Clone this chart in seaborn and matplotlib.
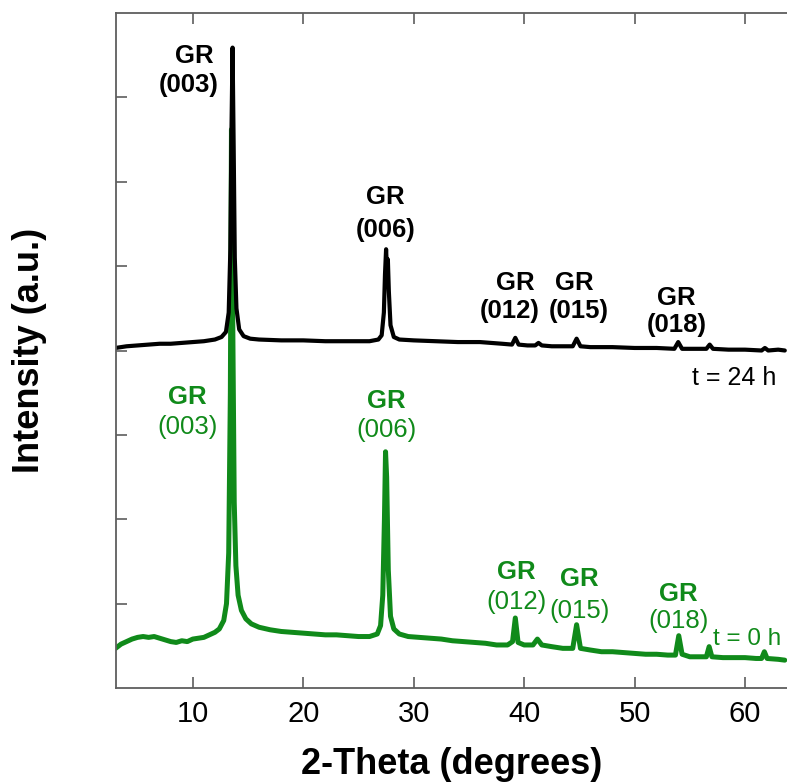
import pandas as pd
import matplotlib
matplotlib.use("Agg")
import matplotlib.pyplot as plt
import seaborn as sns

# XRD pattern after 24 h (black, offset upward)
x_24h = [3.0, 4.0, 5.0, 6.0, 7.0, 8.0, 9.0, 10.0, 11.0, 12.0, 12.6, 13.0, 13.25, 13.4,
         13.5, 13.6, 13.7, 13.8, 13.95, 14.2, 14.6, 15.2, 16.0, 18.0, 20.0, 22.0, 24.0,
         26.0, 26.8, 27.1, 27.3, 27.4, 27.5, 27.58, 27.66, 27.75, 27.9, 28.2, 28.7, 30.0,
         32.0, 34.0, 36.0, 38.0, 38.9, 39.2, 39.5, 40.3, 41.0, 41.3, 41.6, 42.5, 43.5,
         44.4, 44.75, 45.1, 46.0, 48.0, 50.0, 52.0, 53.6, 53.95, 54.3, 55.5, 56.5, 56.8,
         57.1, 58.5, 60.0, 61.5, 61.8, 62.1, 63.0, 63.6]
y_24h = [4.03, 4.05, 4.06, 4.07, 4.08, 4.08, 4.09, 4.10, 4.11, 4.13, 4.16, 4.22, 4.45, 5.2,
         6.6, 7.59, 6.4, 5.1, 4.5, 4.25, 4.17, 4.14, 4.13, 4.12, 4.12, 4.11, 4.11,
         4.11, 4.13, 4.18, 4.45, 4.9, 5.20, 4.95, 5.08, 4.7, 4.3, 4.16, 4.13, 4.12,
         4.11, 4.10, 4.10, 4.08, 4.07, 4.15, 4.07, 4.06, 4.06, 4.09, 4.06, 4.05, 4.05,
         4.05, 4.14, 4.05, 4.04, 4.04, 4.03, 4.03, 4.02, 4.10, 4.02, 4.02, 4.02, 4.07,
         4.02, 4.01, 4.01, 4.00, 4.03, 4.00, 4.01, 4.00]

# XRD pattern at t = 0 h (green)
x_0h = [3.0, 3.5, 4.0, 4.5, 5.0, 5.5, 6.0, 6.5, 7.0, 7.5, 8.0, 8.5, 9.0, 9.5, 10.0, 10.5,
        11.0, 11.5, 12.0, 12.4, 12.8, 13.05, 13.25, 13.4, 13.5, 13.6, 13.75, 13.9, 14.1,
        14.4, 14.8, 15.3, 16.0, 17.0, 18.0, 19.0, 20.0, 21.0, 22.0, 23.0, 24.0, 25.0,
        26.0, 26.7, 27.0, 27.2, 27.35, 27.45, 27.55, 27.7, 27.9, 28.2, 28.7, 29.5, 30.5,
        31.5, 32.5, 33.5, 34.5, 35.5, 36.5, 37.5, 38.5, 38.95, 39.2, 39.45, 40.0, 40.8,
        41.2, 41.6, 42.5, 43.5, 44.4, 44.75, 45.1, 46.0, 47.0, 48.0, 49.0, 50.0, 51.0,
        52.0, 53.0, 53.7, 54.0, 54.3, 55.0, 56.0, 56.5, 56.75, 57.0, 58.0, 59.0, 60.0,
        61.0, 61.5, 61.75, 62.0, 63.0, 63.6]
y_0h = [0.47, 0.52, 0.55, 0.58, 0.60, 0.61, 0.60, 0.61, 0.59, 0.57, 0.55, 0.54, 0.56, 0.55,
        0.58, 0.59, 0.60, 0.63, 0.66, 0.70, 0.80, 1.0, 1.6, 3.5, 6.62, 4.6, 2.2, 1.45, 1.1,
        0.92, 0.82, 0.76, 0.72, 0.69, 0.67, 0.66, 0.65, 0.64, 0.63, 0.63, 0.62, 0.61,
        0.61, 0.64, 0.74, 1.1, 2.0, 2.80, 2.5, 1.4, 0.85, 0.70, 0.64, 0.61, 0.60,
        0.59, 0.58, 0.56, 0.55, 0.54, 0.53, 0.51, 0.51, 0.55, 0.83, 0.54, 0.51, 0.51,
        0.58, 0.51, 0.49, 0.47, 0.47, 0.75, 0.47, 0.45, 0.43, 0.43, 0.42, 0.41, 0.40,
        0.40, 0.39, 0.39, 0.62, 0.40, 0.37, 0.37, 0.37, 0.49, 0.37, 0.36, 0.36, 0.36,
        0.35, 0.35, 0.43, 0.35, 0.34, 0.33]

peak_names = ["(003)", "(006)", "(012)", "(015)", "(018)"]

green = "#108a1a"
grey = "#5e5e5e"

sns.set_style("white")
plt.rcParams["font.family"] = ["Liberation Sans", "DejaVu Sans"]
plt.rcParams["text.color"] = "black"
plt.rcParams["axes.labelcolor"] = "black"

df = pd.concat([
    pd.DataFrame({"two_theta": x_0h, "intensity": y_0h, "run": "t = 0 h"}),
    pd.DataFrame({"two_theta": x_24h, "intensity": y_24h, "run": "t = 24 h"}),
])

fig = plt.figure(figsize=(7.87, 7.83), dpi=100)
ax = fig.add_axes([115.5 / 787, 1 - 688 / 783, 1 - 115.5 / 787, 675 / 783])

sns.lineplot(data=df[df["run"] == "t = 0 h"], x="two_theta", y="intensity",
             color=green, lw=3.6, sort=False, estimator=None, ax=ax)
sns.lineplot(data=df[df["run"] == "t = 24 h"], x="two_theta", y="intensity",
             color="black", lw=3.0, sort=False, estimator=None, ax=ax)

ax.set_xlim(3.0, 63.8)
ax.set_ylim(0, 8)
ax.set_xticks([10, 20, 30, 40, 50, 60])
ax.set_yticks([1, 2, 3, 4, 5, 6, 7])
ax.tick_params(axis="both", direction="in", length=8, width=1.2, color=grey,
               labelcolor="black", top=True, right=False, bottom=True, left=True,
               labelleft=False, labelsize=21, pad=9)
for side in ["top", "left", "bottom"]:
    ax.spines[side].set_color(grey)
    ax.spines[side].set_linewidth(1.3)
ax.spines["right"].set_visible(False)

ax.set_xlabel("2-Theta (degrees)", fontsize=26, fontweight="bold", color="black")
ax.set_ylabel("Intensity (a.u.)", fontsize=26, fontweight="bold", color="black")
ax.xaxis.set_label_coords(0.5, -0.088)
ax.yaxis.set_label_coords(-0.102, 0.5)

# peak labels, 24 h pattern (bold black)
gr_pos_24h = [(10.16, 7.41), (27.41, 5.74), (39.19, 4.72), (44.58, 4.72), (53.77, 4.54)]
hkl_pos_24h = [(9.61, 7.06), (27.5, 5.35), (38.69, 4.39), (44.98, 4.39), (53.86, 4.22)]
for name, (gx, gy), (hx, hy) in zip(peak_names, gr_pos_24h, hkl_pos_24h):
    ax.text(gx, gy, "GR", ha="center", va="baseline", fontsize=18.5,
            fontweight="bold", color="black")
    ax.text(hx, hy, name, ha="center", va="baseline", fontsize=18.5,
            fontweight="bold", color="black")

# peak labels, 0 h pattern (green)
gr_pos_0h = [(9.48, 3.37), (27.55, 3.32), (39.28, 1.29), (45.03, 1.21), (53.95, 1.03)]
hkl_pos_0h = [(9.48, 3.01), (27.55, 2.97), (39.28, 0.94), (45.0, 0.83), (53.95, 0.71)]
for name, (gx, gy), (hx, hy) in zip(peak_names, gr_pos_0h, hkl_pos_0h):
    ax.text(gx, gy, "GR", ha="center", va="baseline", fontsize=18.5,
            fontweight="bold", color=green)
    ax.text(hx, hy, name, ha="center", va="baseline", fontsize=18.5, color=green)

ax.text(55.22, 3.59, "t = 24 h", ha="left", va="baseline", fontsize=18, color="black")
ax.text(57.12, 0.51, "t = 0 h", ha="left", va="baseline", fontsize=17.5, color=green)

fig.savefig("out.png", dpi=100)
